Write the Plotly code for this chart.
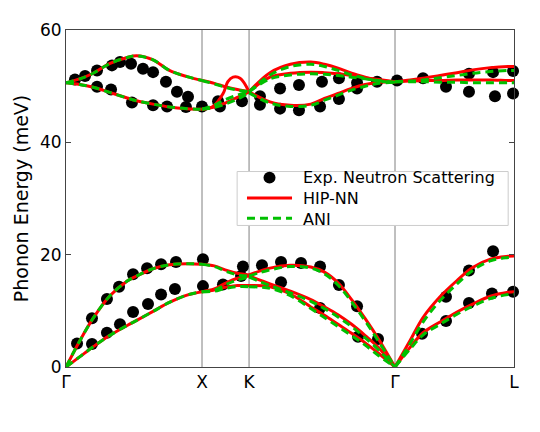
import plotly.graph_objects as go

# high-symmetry path positions (Γ-X-K-Γ-L)
SYM_POS = [0.0, 1.0, 1.346, 2.419, 3.294]
SYM_LABELS = ["Γ", "X", "K", "Γ", "L"]

# experimental neutron scattering points
EXP_X = [0.066, 0.14, 0.228, 0.338, 0.397, 0.478, 0.566, 0.64, 0.735, 0.816, 0.897,
         0.228, 0.331, 0.485, 0.64, 0.743, 0.882, 1.0, 1.118, 1.132, 1.294,
         1.426, 1.426, 1.574, 1.574, 1.713, 1.713, 1.882, 1.868, 2.007, 2.007,
         2.14, 2.14, 2.287, 2.434, 2.625, 2.794, 2.963, 2.963, 3.14, 3.154, 3.287, 3.287,
         0.081, 0.191, 0.191, 0.301, 0.301, 0.397, 0.39, 0.493, 0.493, 0.603, 0.596,
         0.699, 0.699, 0.801, 0.809, 1.007, 1.007, 1.154, 1.301, 1.287, 1.441,
         1.581, 1.581, 1.728, 1.868, 1.868, 2.007, 2.14, 2.147, 2.294, 2.618,
         2.794, 2.794, 2.963, 2.963, 3.14, 3.132, 3.287]
EXP_Y = [51.2, 51.8, 52.8, 53.7, 54.3, 54.0, 53.1, 52.5, 50.8, 49.0, 48.1,
         49.9, 49.4, 47.1, 46.6, 46.4, 46.3, 46.4, 47.3, 46.4, 47.3,
         48.2, 46.7, 49.6, 46.0, 50.2, 45.7, 50.8, 46.4, 51.4, 47.7,
         50.6, 49.6, 50.8, 51.0, 51.4, 49.9, 52.2, 49.0, 52.5, 48.2, 52.7, 48.7,
         4.2, 4.1, 8.7, 6.1, 12.1, 7.6, 14.3, 9.8, 16.5, 11.2, 17.6,
         12.9, 18.3, 13.9, 18.7, 19.2, 14.4, 14.7, 17.9, 16.2, 18.1,
         18.7, 15.1, 18.5, 17.9, 10.5, 14.6, 10.8, 5.4, 5.0, 5.9,
         12.5, 8.2, 17.2, 11.4, 20.6, 13.1, 13.4]

# Γ-X
GX_X = [0, 0.1, 0.2, 0.32, 0.45, 0.52, 0.64, 0.76, 0.89, 1.0]
GX_LA = [0, 4.6, 8.7, 12.6, 15.3, 16.2, 17.5, 18.2, 18.4, 18.3]
GX_TA = [0, 1.8, 3.6, 5.6, 7.4, 8.3, 9.9, 11.5, 12.8, 13.4]
GX_OL = [50.6, 50.3, 49.8, 48.9, 47.9, 47.4, 46.8, 46.3, 46.0, 45.9]
GX_OU = [50.6, 51.3, 52.3, 54.0, 55.1, 55.4, 54.7, 52.8, 51.7, 51.0]

# X-K
XK_X = [1.0, 1.09, 1.17, 1.26, 1.346]
XK_HIP_A1 = [18.3, 18.0, 17.3, 16.7, 16.4]
XK_HIP_A2 = [13.4, 13.9, 14.9, 15.8, 16.2]
XK_HIP_A3 = [13.4, 13.7, 14.2, 14.5, 14.5]
XK_HIP_O1 = [51.0, 50.5, 49.9, 49.4, 49.0]
XK_HIP_O3 = [45.9, 46.3, 47.0, 48.0, 49.0]
XK_BUMP_X = [1.0, 1.08, 1.155, 1.19, 1.228, 1.28, 1.346]
XK_HIP_BUMP = [45.9, 46.4, 48.7, 50.8, 51.6, 51.4, 49.0]
XK_ANI_A1 = [18.3, 17.9, 17.1, 16.4, 16.2]
XK_ANI_A2 = [13.4, 13.7, 14.6, 15.5, 16.0]
XK_ANI_A3 = [13.4, 13.5, 14.0, 14.3, 14.3]
XK_ANI_O1 = [51.0, 50.4, 49.8, 49.3, 49.0]
XK_ANI_O2 = [45.9, 46.6, 47.6, 48.4, 49.0]
XK_ANI_O3 = [45.9, 46.2, 46.8, 47.7, 48.8]

# K-Γ
KG_X = [1.346, 1.5, 1.65, 1.8, 1.9, 2.0, 2.1, 2.2, 2.3, 2.419]
KG_HIP_LA = [16.4, 17.6, 18.1, 17.8, 16.9, 15.0, 12.0, 8.6, 4.9, 0]
KG_HIP_TM = [16.2, 14.8, 13.5, 12.0, 10.7, 9.3, 7.6, 5.6, 3.4, 0]
KG_HIP_TL = [14.5, 14.3, 13.0, 10.7, 9.2, 7.6, 6.0, 4.3, 2.4, 0]
KG_HIP_O1 = [49.0, 52.4, 53.9, 54.3, 53.9, 53.2, 52.3, 51.6, 51.0, 50.8]
KG_HIP_O2 = [49.0, 51.6, 52.3, 52.5, 52.4, 52.2, 51.9, 51.5, 51.2, 50.8]
KG_HIP_O3 = [49.0, 47.2, 46.6, 46.8, 47.8, 48.7, 49.6, 50.3, 50.7, 50.8]
KG_ANI_LA = [16.2, 17.3, 17.9, 17.6, 16.6, 14.6, 11.6, 8.2, 4.5, 0]
KG_ANI_TM = [16.0, 14.5, 13.2, 11.7, 10.4, 8.9, 7.2, 5.2, 3.0, 0]
KG_ANI_TL = [14.3, 14.0, 12.7, 10.4, 8.8, 7.2, 5.6, 3.9, 2.0, 0]
KG_ANI_O1 = [49.0, 52.0, 53.5, 53.9, 53.5, 52.8, 52.0, 51.4, 50.9, 50.7]
KG_ANI_O2 = [49.0, 51.3, 52.0, 52.2, 52.1, 51.9, 51.6, 51.3, 51.0, 50.7]
KG_ANI_O3 = [48.8, 47.0, 46.4, 46.6, 47.5, 48.4, 49.3, 50.0, 50.5, 50.7]

# Γ-L
GL_X = [2.419, 2.53, 2.625, 2.75, 2.875, 2.99, 3.12, 3.25, 3.294]
GL_HIP_LA = [0, 4.7, 8.8, 12.5, 15.4, 17.7, 19.2, 19.7, 19.75]
GL_HIP_TA = [0, 3.5, 6.1, 8.0, 9.8, 11.2, 12.6, 13.3, 13.4]
GL_HIP_OU = [50.8, 51.1, 51.4, 51.9, 52.4, 52.9, 53.3, 53.5, 53.5]
GL_HIP_OF = [50.8, 50.9, 51.0, 51.0, 51.1, 51.1, 51.1, 51.0, 51.0]
GL_ANI_LA = [0, 4.2, 8.0, 11.8, 14.8, 17.2, 18.9, 19.5, 19.6]
GL_ANI_TA = [0, 3.2, 5.7, 7.6, 9.4, 10.8, 12.2, 12.9, 13.0]
GL_ANI_OU = [50.8, 50.9, 51.1, 51.5, 51.9, 52.3, 52.6, 52.8, 52.8]
GL_ANI_OF = [50.8, 50.8, 50.8, 50.7, 50.7, 50.6, 50.6, 50.6, 50.6]

HIP_BRANCHES = [
    (GX_X, GX_LA), (GX_X, GX_TA), (GX_X, GX_OL), (GX_X, GX_OU),
    (XK_X, XK_HIP_A1), (XK_X, XK_HIP_A2), (XK_X, XK_HIP_A3),
    (XK_X, XK_HIP_O1), (XK_X, XK_HIP_O3), (XK_BUMP_X, XK_HIP_BUMP),
    (KG_X, KG_HIP_LA), (KG_X, KG_HIP_TM), (KG_X, KG_HIP_TL),
    (KG_X, KG_HIP_O1), (KG_X, KG_HIP_O2), (KG_X, KG_HIP_O3),
    (GL_X, GL_HIP_LA), (GL_X, GL_HIP_TA), (GL_X, GL_HIP_OU), (GL_X, GL_HIP_OF),
]
ANI_BRANCHES = [
    (GX_X, GX_LA), (GX_X, GX_TA), (GX_X, GX_OL), (GX_X, GX_OU),
    (XK_X, XK_ANI_A1), (XK_X, XK_ANI_A2), (XK_X, XK_ANI_A3),
    (XK_X, XK_ANI_O1), (XK_X, XK_ANI_O2), (XK_X, XK_ANI_O3),
    (KG_X, KG_ANI_LA), (KG_X, KG_ANI_TM), (KG_X, KG_ANI_TL),
    (KG_X, KG_ANI_O1), (KG_X, KG_ANI_O2), (KG_X, KG_ANI_O3),
    (GL_X, GL_ANI_LA), (GL_X, GL_ANI_TA), (GL_X, GL_ANI_OU), (GL_X, GL_ANI_OF),
]
LEGEND_TEXT = ["Exp. Neutron Scattering", "HIP-NN", "ANI"]

FONT = "DejaVu Sans"
RED = "#ff0000"
GREEN = "#00c000"
DASH = "8px,5px"
PLOT_W, PLOT_H = 448, 345  # plot area in px, for paper-unit sizes below

fig = go.Figure()

# measured points first, model curves drawn over them
fig.add_trace(go.Scatter(
    x=EXP_X, y=EXP_Y, mode="markers", name=LEGEND_TEXT[0],
    marker=dict(size=12, color="black"), cliponaxis=False,
))
for bx, by in HIP_BRANCHES:
    fig.add_trace(go.Scatter(
        x=bx, y=by, mode="lines", name=LEGEND_TEXT[1], cliponaxis=False,
        line=dict(color=RED, width=3, shape="spline", smoothing=1.0),
    ))
for bx, by in ANI_BRANCHES:
    fig.add_trace(go.Scatter(
        x=bx, y=by, mode="lines", name=LEGEND_TEXT[2], cliponaxis=False,
        line=dict(color=GREEN, width=3, dash=DASH, shape="spline", smoothing=1.0),
    ))

for xv in SYM_POS[1:4]:
    fig.add_vline(x=xv, line_width=1, line_color="#808080", layer="below")

# legend drawn by hand (compact matplotlib-style box), paper coords
_lx0, _lx1, _ly0, _ly1 = 0.382, 0.987, 0.420, 0.580
_sym0, _sym1, _txt = 0.404, 0.5045, 0.527
_mid = 0.5014                      # middle row (HIP-NN)
_step = 20.8 / PLOT_H              # line spacing of a 16px multi-line annotation
_rows = [_mid + _step, _mid, _mid - _step]
fig.add_shape(type="rect", xref="paper", yref="paper", x0=_lx0, x1=_lx1, y0=_ly0, y1=_ly1,
              line=dict(color="#cccccc", width=1), fillcolor="white", layer="above")
_cx = (_sym0 + _sym1) / 2
fig.add_shape(type="circle", xref="paper", yref="paper",
              x0=_cx - 6 / PLOT_W, x1=_cx + 6 / PLOT_W,
              y0=_rows[0] - 6 / PLOT_H, y1=_rows[0] + 6 / PLOT_H,
              line=dict(color="black", width=0), fillcolor="black", layer="above")
fig.add_shape(type="line", xref="paper", yref="paper", x0=_sym0, x1=_sym1, y0=_rows[1], y1=_rows[1],
              line=dict(color=RED, width=3), layer="above")
fig.add_shape(type="line", xref="paper", yref="paper", x0=_sym0, x1=_sym1, y0=_rows[2], y1=_rows[2],
              line=dict(color=GREEN, width=3, dash=DASH), layer="above")
fig.add_annotation(xref="paper", yref="paper", x=_txt, y=_mid, text="<br>".join(LEGEND_TEXT),
                   showarrow=False, xanchor="left", yanchor="middle", align="left",
                   borderpad=0, font=dict(size=16))

# page body has an 8px margin, so the figure is shifted and trimmed to fit
fig.update_layout(
    width=532, height=424,
    margin=dict(l=58, r=26, t=14, b=65),
    paper_bgcolor="white", plot_bgcolor="white",
    showlegend=False,
    font=dict(family=FONT, size=17, color="black"),
    xaxis=dict(range=[SYM_POS[0], SYM_POS[-1]], tickvals=SYM_POS, ticktext=SYM_LABELS,
               showgrid=False, zeroline=False, ticks="", showline=True, mirror=True,
               linecolor="#444444", linewidth=1),
    yaxis=dict(range=[0, 60], tickvals=[0, 20, 40, 60], showgrid=False, zeroline=False,
               ticks="inside", ticklen=5, tickcolor="#444444", showline=True, mirror="ticks",
               linecolor="#444444", linewidth=1,
               title=dict(text="Phonon Energy (meV)", font=dict(size=19), standoff=6)),
)

fig.write_html("out.html")
